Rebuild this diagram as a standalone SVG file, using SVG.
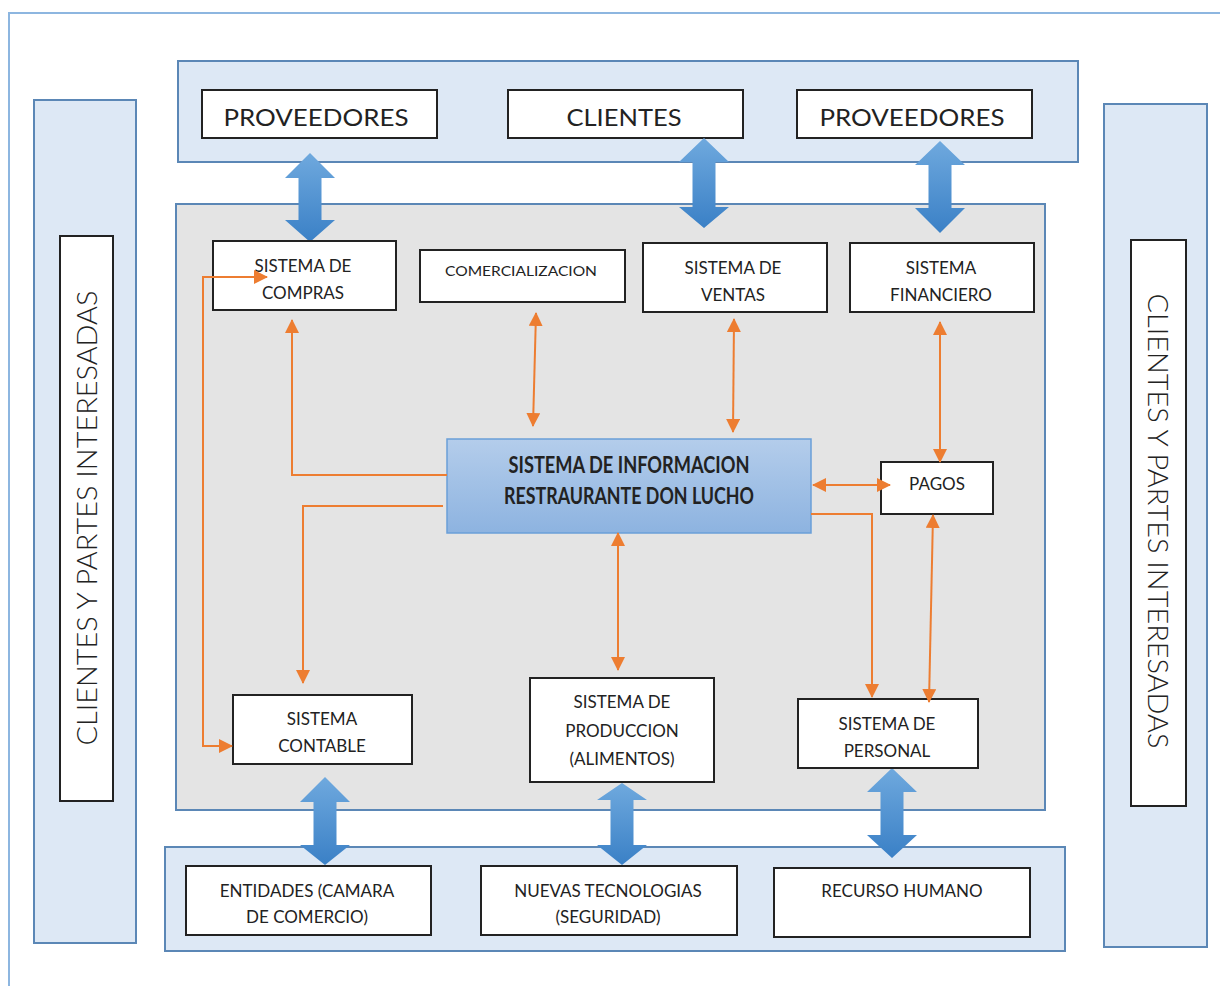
<svg xmlns="http://www.w3.org/2000/svg" width="1220" height="986" viewBox="0 0 1220 986">
  <defs>
    <linearGradient id="coreFill" x1="0" y1="0" x2="0" y2="1">
      <stop offset="0" stop-color="#b4cdeb"/>
      <stop offset="1" stop-color="#8db3e0"/>
    </linearGradient>
    <linearGradient id="bigArrow" x1="0" y1="0" x2="0" y2="1">
      <stop offset="0" stop-color="#6fa9de"/>
      <stop offset="1" stop-color="#3a80c6"/>
    </linearGradient>
    <marker id="oa" viewBox="0 0 14 14" refX="13" refY="7" markerWidth="14" markerHeight="14" markerUnits="userSpaceOnUse" orient="auto-start-reverse">
      <path d="M0,0 L14,7 L0,14 z" fill="#ed7d31"/>
    </marker>
  </defs>
  <style>
    .panel { fill: #dde8f5; stroke: #5b87b6; stroke-width: 2; }
    .core { fill: #e4e4e4; stroke: #5b87b6; stroke-width: 2; }
    .box { fill: #ffffff; stroke: #222222; stroke-width: 2; }
    .hub { fill: url(#coreFill); stroke: #6a9fd8; stroke-width: 1.5; }
    .big { fill: url(#bigArrow); }
    .link { fill: none; stroke: #ed7d31; stroke-width: 2; }
    text { font-family: "Lato", "Open Sans", "Liberation Sans", sans-serif; fill: #222222; text-anchor: middle; }
    .t24 { font-size: 24px; }
    .t17 { font-size: 17px; }
    .t14 { font-size: 14px; }
    .hubt { font-size: 22px; font-weight: bold; }
    .side { font-size: 28px; font-weight: 300; }
  </style>

  <!-- outer frame -->
  <path d="M9,986 L9,13 L1220,13" fill="none" stroke="#8db6e0" stroke-width="2"/>

  <!-- side panels -->
  <g id="left-stakeholders">
    <rect class="panel" x="34" y="100" width="102" height="843"/>
    <rect class="box" x="60" y="236" width="53" height="565"/>
    <text class="side" transform="translate(97,518) rotate(-90)" textLength="455" lengthAdjust="spacingAndGlyphs">CLIENTES Y PARTES INTERESADAS</text>
  </g>
  <g id="right-stakeholders">
    <rect class="panel" x="1104" y="104" width="103" height="843"/>
    <rect class="box" x="1131" y="240" width="55" height="566"/>
    <text class="side" transform="translate(1148,521) rotate(90)" textLength="455" lengthAdjust="spacingAndGlyphs">CLIENTES Y PARTES INTERESADAS</text>
  </g>

  <!-- top external band -->
  <g id="top-band">
    <rect class="panel" x="178" y="61" width="900" height="101"/>
  </g>
  <g id="proveedores-1">
    <rect class="box" x="202" y="90" width="235" height="48"/>
    <text class="t24" x="316" y="126" textLength="185" lengthAdjust="spacingAndGlyphs">PROVEEDORES</text>
  </g>
  <g id="clientes">
    <rect class="box" x="508" y="90" width="235" height="48"/>
    <text class="t24" x="624" y="126" textLength="115" lengthAdjust="spacingAndGlyphs">CLIENTES</text>
  </g>
  <g id="proveedores-2">
    <rect class="box" x="797" y="90" width="235" height="48"/>
    <text class="t24" x="912" y="126" textLength="185" lengthAdjust="spacingAndGlyphs">PROVEEDORES</text>
  </g>

  <!-- inner system area -->
  <g id="system-area">
    <rect class="core" x="176" y="204" width="869" height="606"/>
  </g>

  <!-- bottom external band -->
  <g id="bottom-band">
    <rect class="panel" x="165" y="847" width="900" height="104"/>
  </g>

  <!-- wide double arrows between bands and subsystems -->
  <g id="wide-links">
    <path class="big" d="M310,153 L335,178 L321.5,178 L321.5,220 L335,220 L310,242 L285,220 L298.5,220 L298.5,178 L285,178 Z"/>
    <path class="big" d="M704,138 L729,162 L715.5,162 L715.5,207 L729,207 L704,228 L679,207 L692.5,207 L692.5,162 L679,162 Z"/>
    <path class="big" d="M940,141 L965,165 L951.5,165 L951.5,208 L965,208 L940,233 L915,208 L928.5,208 L928.5,165 L915,165 Z"/>
    <path class="big" d="M325,777 L350,802 L336.5,802 L336.5,845 L350,845 L325,865 L300,845 L313.5,845 L313.5,802 L300,802 Z"/>
    <path class="big" d="M622,783 L647,800 L633.5,800 L633.5,845 L647,845 L622,865 L597,845 L610.5,845 L610.5,800 L597,800 Z"/>
    <path class="big" d="M892,768 L917,792 L903.5,792 L903.5,835 L917,835 L892,858 L867,835 L880.5,835 L880.5,792 L867,792 Z"/>
  </g>

  <!-- subsystems -->
  <g id="sistema-compras">
    <rect class="box" x="213" y="241" width="183" height="69"/>
    <text class="t17" x="303" y="272">SISTEMA DE</text>
    <text class="t17" x="303" y="299">COMPRAS</text>
  </g>
  <g id="comercializacion">
    <rect class="box" x="420" y="250" width="205" height="52"/>
    <text class="t14" x="521" y="276" textLength="152" lengthAdjust="spacingAndGlyphs">COMERCIALIZACION</text>
  </g>
  <g id="sistema-ventas">
    <rect class="box" x="643" y="243" width="184" height="69"/>
    <text class="t17" x="733" y="274">SISTEMA DE</text>
    <text class="t17" x="733" y="301">VENTAS</text>
  </g>
  <g id="sistema-financiero">
    <rect class="box" x="850" y="243" width="184" height="69"/>
    <text class="t17" x="941" y="274">SISTEMA</text>
    <text class="t17" x="941" y="301">FINANCIERO</text>
  </g>
  <g id="sistema-informacion">
    <rect class="hub" x="447" y="439" width="364" height="94"/>
    <text class="hubt" x="629" y="473" textLength="241" lengthAdjust="spacingAndGlyphs">SISTEMA DE INFORMACION</text>
    <text class="hubt" x="629" y="504" textLength="250" lengthAdjust="spacingAndGlyphs">RESTRAURANTE DON LUCHO</text>
  </g>
  <g id="pagos">
    <rect class="box" x="881" y="462" width="112" height="52"/>
    <text class="t17" x="937" y="490">PAGOS</text>
  </g>
  <g id="sistema-contable">
    <rect class="box" x="233" y="695" width="179" height="69"/>
    <text class="t17" x="322" y="725">SISTEMA</text>
    <text class="t17" x="322" y="752">CONTABLE</text>
  </g>
  <g id="sistema-produccion">
    <rect class="box" x="530" y="678" width="184" height="104"/>
    <text class="t17" x="622" y="708">SISTEMA DE</text>
    <text class="t17" x="622" y="737">PRODUCCION</text>
    <text class="t17" x="622" y="765">(ALIMENTOS)</text>
  </g>
  <g id="sistema-personal">
    <rect class="box" x="798" y="699" width="180" height="69"/>
    <text class="t17" x="887" y="730">SISTEMA DE</text>
    <text class="t17" x="887" y="757">PERSONAL</text>
  </g>

  <!-- bottom externals -->
  <g id="entidades">
    <rect class="box" x="186" y="866" width="245" height="69"/>
    <text class="t17" x="307" y="897">ENTIDADES (CAMARA</text>
    <text class="t17" x="307" y="923">DE COMERCIO)</text>
  </g>
  <g id="nuevas-tecnologias">
    <rect class="box" x="481" y="866" width="256" height="69"/>
    <text class="t17" x="608" y="897">NUEVAS TECNOLOGIAS</text>
    <text class="t17" x="608" y="923">(SEGURIDAD)</text>
  </g>
  <g id="recurso-humano">
    <rect class="box" x="774" y="868" width="256" height="69"/>
    <text class="t17" x="902" y="897">RECURSO HUMANO</text>
  </g>

  <!-- orange information flows, drawn over the boxes -->
  <g id="flows">
    <path class="link" d="M447,475 L292,475 L292,320" marker-end="url(#oa)"/>
    <path class="link" d="M443,506 L303,506 L303,683" marker-end="url(#oa)"/>
    <path class="link" d="M267,277 L203,277 L203,746 L232,746" marker-start="url(#oa)" marker-end="url(#oa)"/>
    <path class="link" d="M536,313 L533,426" marker-start="url(#oa)" marker-end="url(#oa)"/>
    <path class="link" d="M734,319 L733,432" marker-start="url(#oa)" marker-end="url(#oa)"/>
    <path class="link" d="M940,322 L940,462" marker-start="url(#oa)" marker-end="url(#oa)"/>
    <path class="link" d="M813,485 L890,485" marker-start="url(#oa)" marker-end="url(#oa)"/>
    <path class="link" d="M811,514 L872,514 L872,697" marker-end="url(#oa)"/>
    <path class="link" d="M933,515 L929,702" marker-start="url(#oa)" marker-end="url(#oa)"/>
    <path class="link" d="M618,533 L618,670" marker-start="url(#oa)" marker-end="url(#oa)"/>
  </g>
</svg>
